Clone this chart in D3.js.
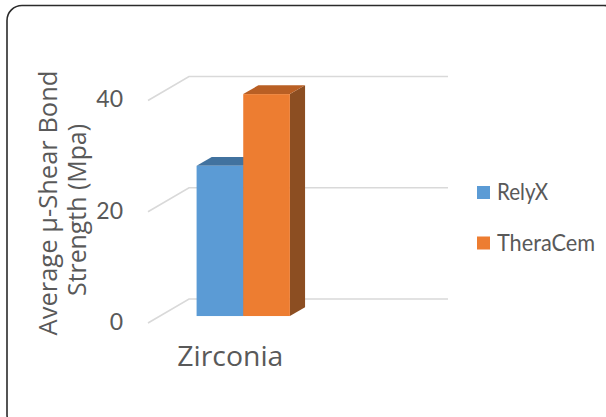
<!DOCTYPE html>
<html><head><meta charset="utf-8">
<script src="https://cdn.jsdelivr.net/npm/d3@7"></script>
<style>html,body{margin:0;padding:0;background:#fff;}svg{display:block;}</style>
</head><body>
<svg id="chart" width="606" height="417"></svg>
<script>
const categories = ["Zirconia"];
const seriesNames = ["RelyX", "TheraCem"];
const seriesValues = [[27.0], [39.9]];
const yTicks = [0, 20, 40];
const yTitle = ["Average µ-Shear Bond", "Strength (Mpa)"];

const faceColors = ["#5b9bd5", "#ed7d31"];
const topColors = ["#41729f", "#b95f24"];
const sideColors = ["#3b6a94", "#8c4e22"];
const textColor = "#595959";

const svg = d3.select("#chart");
svg.append("rect").attr("x", 7).attr("y", 5.5).attr("width", 612).attr("height", 424)
  .attr("rx", 15).attr("fill", "none").attr("stroke", "#2b2b2b").attr("stroke-width", 1.6);

const depthDX = 41, depthDY = -24;
const barD0 = 0.29, barD = 0.37;
const y = d3.scaleLinear().domain([0, 40]).range([323, 100.5]);
const x0 = d3.scaleBand().domain(categories).range([184.7, 278]).padding(0);
const x1 = d3.scaleBand().domain(seriesNames).range([0, x0.bandwidth()]).padding(0);
const wallRight = 448;

const g = svg.append("g");
yTicks.forEach(t => {
  const yf = y(t);
  g.append("path")
    .attr("d", `M148,${yf} L${148 + depthDX},${yf + depthDY} L${wallRight},${yf + depthDY}`)
    .attr("fill", "none").attr("stroke", "#d9d9d9").attr("stroke-width", 1.6);
});

yTicks.forEach(t => {
  svg.append("text").attr("x", 123).attr("y", y(t) + 1)
    .attr("text-anchor", "end").attr("dominant-baseline", "middle")
    .attr("font-family", "Lato, 'Open Sans', sans-serif").attr("font-size", 23)
    .attr("fill", textColor).text(t);
});

const bars = svg.append("g");
seriesNames.forEach((s, si) => {
  categories.forEach((c, ci) => {
    const v = seriesValues[si][ci];
    const xl = x0(c) + x1(s) + barD0 * depthDX;
    const xr = xl + x1.bandwidth();
    const yb = y(0) + barD0 * depthDY;
    const yt = y(v) + barD0 * depthDY;
    const dx = barD * depthDX, dy = barD * depthDY;
    bars.append("path").attr("d", `M${xr},${yt} L${xr + dx},${yt + dy} L${xr + dx},${yb + dy} L${xr},${yb} Z`)
      .attr("fill", sideColors[si]);
    bars.append("path").attr("d", `M${xl},${yt} L${xl + dx},${yt + dy} L${xr + dx},${yt + dy} L${xr},${yt} Z`)
      .attr("fill", topColors[si]);
    bars.append("rect").attr("x", xl).attr("y", yt).attr("width", xr - xl).attr("height", yb - yt)
      .attr("fill", faceColors[si]);
  });
});

categories.forEach(c => {
  svg.append("text").attr("x", x0(c) + x0.bandwidth() / 2 - 1).attr("y", 366)
    .attr("text-anchor", "middle").attr("font-family", "'Open Sans', sans-serif")
    .attr("font-size", 27).attr("fill", textColor)
    .attr("textLength", 106).attr("lengthAdjust", "spacingAndGlyphs").text(c);
});

const title = svg.append("g");
title.append("text").attr("transform", "translate(57,203) rotate(-90)")
  .attr("text-anchor", "middle").attr("font-family", "'Open Sans', sans-serif")
  .attr("font-size", 26).attr("fill", textColor)
  .attr("textLength", 265).attr("lengthAdjust", "spacingAndGlyphs").text(yTitle[0]);
title.append("text").attr("transform", "translate(86,210) rotate(-90)")
  .attr("text-anchor", "middle").attr("font-family", "'Open Sans', sans-serif")
  .attr("font-size", 26).attr("fill", textColor)
  .attr("textLength", 172).attr("lengthAdjust", "spacingAndGlyphs").text(yTitle[1]);

const legendY = [192.5, 243];
const legendW = [51, 98];
seriesNames.forEach((s, si) => {
  svg.append("rect").attr("x", 477).attr("y", legendY[si] - 6.5).attr("width", 13).attr("height", 13)
    .attr("fill", faceColors[si]);
  svg.append("text").attr("x", 497).attr("y", legendY[si] + 7.5)
    .attr("font-family", "Lato, sans-serif").attr("font-size", 23)
    .attr("fill", textColor)
    .attr("textLength", legendW[si]).attr("lengthAdjust", "spacingAndGlyphs").text(s);
});
</script>
</body></html>
